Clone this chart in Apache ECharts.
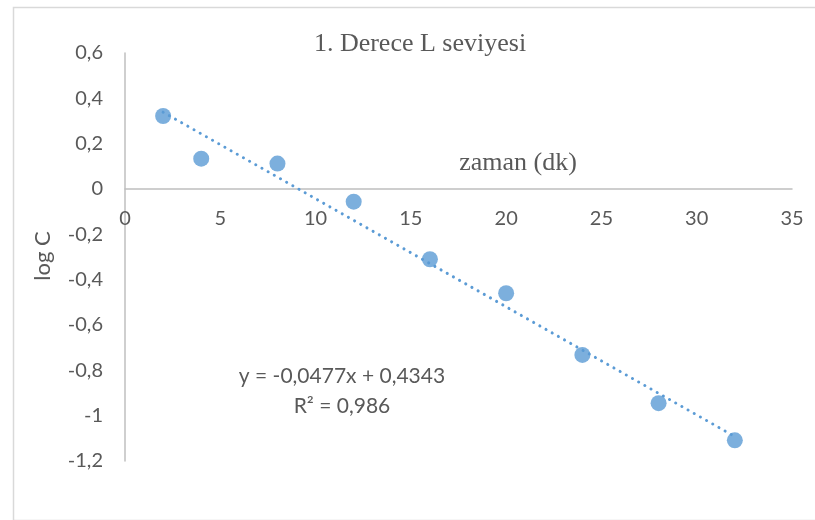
<!DOCTYPE html>
<html>
<head>
<meta charset="utf-8">
<style>
  html, body { margin: 0; padding: 0; background: #ffffff; }
  #chart { width: 815px; height: 520px; }
</style>
<script src="https://cdn.jsdelivr.net/npm/echarts@6/dist/echarts.min.js"></script>
</head>
<body>
<div id="chart"></div>
<script>
// Time (minutes) and measured log C values
const zamanDk = [2, 4, 8, 12, 16, 20, 24, 28, 32];
const logC = [0.322, 0.134, 0.112, -0.056, -0.310, -0.460, -0.732, -0.945, -1.109];

// Linear trendline coefficients, as printed on the chart
const trendSlope = -0.0477;
const trendIntercept = 0.4343;
const trendR2 = 0.986;

// Axis ranges: [min, max, interval]
const xRange = [0, 35, 5];
const yRange = [-1.2, 0.6, 0.2];

const titleText = '1. Derece L seviyesi';
const xAxisTitle = 'zaman (dk)';
const yAxisTitle = 'log C';

const trendX = [zamanDk[0], zamanDk[zamanDk.length - 1]];
const trendData = trendX.map(x => [x, trendSlope * x + trendIntercept]);
const scatterData = zamanDk.map((x, i) => [x, logC[i]]);

const fmtComma = v => String(v).replace('.', ',');
const eqText = 'y = ' + fmtComma(trendSlope) + 'x + ' + fmtComma(trendIntercept);
const r2Text = 'R² = ' + fmtComma(trendR2);

const textGray = '#595959';
const axisGray = '#BFBFBF';
const blue = '#5B9BD5';
const sans = 'Lato, "Open Sans", sans-serif';
const serif = '"Liberation Serif", "DejaVu Serif", serif';

// Plot area; the category axis (with its labels) sits on y = 0
const gridBox = { left: 125, right: 23, top: 53, bottom: 59 };
const plotHeight = 520 - gridBox.top - gridBox.bottom;
const zeroOffset = -plotHeight * (0 - yRange[0]) / (yRange[1] - yRange[0]);

const chart = echarts.init(document.getElementById('chart'), null, { renderer: 'canvas' });
chart.setOption({
  animation: false,
  backgroundColor: '#ffffff',
  grid: Object.assign({ containLabel: false }, gridBox),
  xAxis: {
    type: 'value',
    position: 'bottom',
    offset: zeroOffset,
    min: xRange[0], max: xRange[1], interval: xRange[2],
    axisLine: { show: true, onZero: false, lineStyle: { color: axisGray, width: 1.5 } },
    axisTick: { show: false },
    splitLine: { show: false },
    axisLabel: { color: textGray, fontFamily: sans, fontSize: 20, margin: 20 }
  },
  yAxis: {
    type: 'value',
    min: yRange[0], max: yRange[1], interval: yRange[2],
    axisLine: { show: true, onZero: false, lineStyle: { color: axisGray, width: 1.5 } },
    axisTick: { show: false },
    splitLine: { show: false },
    axisLabel: {
      color: textGray, fontFamily: sans, fontSize: 20, margin: 22,
      formatter: v => String(+v.toFixed(1)).replace('.', ',')
    }
  },
  series: [
    {
      type: 'line',
      data: trendData,
      symbol: 'none',
      lineStyle: { color: blue, width: 3, type: [0.1, 7], cap: 'round' },
      silent: true,
      z: 2
    },
    {
      type: 'scatter',
      data: scatterData,
      symbol: 'circle',
      symbolSize: 16,
      itemStyle: { color: blue },
      z: 3
    }
  ],
  graphic: [
    {
      type: 'rect', left: 11, top: 5, silent: true,
      shape: { width: 812, height: 513 },
      style: { fill: 'none', stroke: '#D9D9D9', lineWidth: 1.5 }
    },
    {
      type: 'text', x: 420, y: 44,
      style: { text: titleText, fill: textGray, font: '26px ' + serif, textAlign: 'center', textVerticalAlign: 'middle' }
    },
    {
      type: 'text', x: 518, y: 163,
      style: { text: xAxisTitle, fill: textGray, font: '26px ' + serif, textAlign: 'center', textVerticalAlign: 'middle' }
    },
    {
      type: 'text', x: 43, y: 256, rotation: Math.PI / 2,
      style: { text: yAxisTitle, fill: textGray, font: '22px ' + sans, textAlign: 'center', textVerticalAlign: 'middle' }
    },
    {
      type: 'text', x: 342, y: 376,
      style: { text: eqText, fill: textGray, font: '21px ' + sans, textAlign: 'center', textVerticalAlign: 'middle' }
    },
    {
      type: 'text', x: 342, y: 406,
      style: { text: r2Text, fill: textGray, font: '21px ' + sans, textAlign: 'center', textVerticalAlign: 'middle' }
    }
  ]
});
</script>
</body>
</html>
